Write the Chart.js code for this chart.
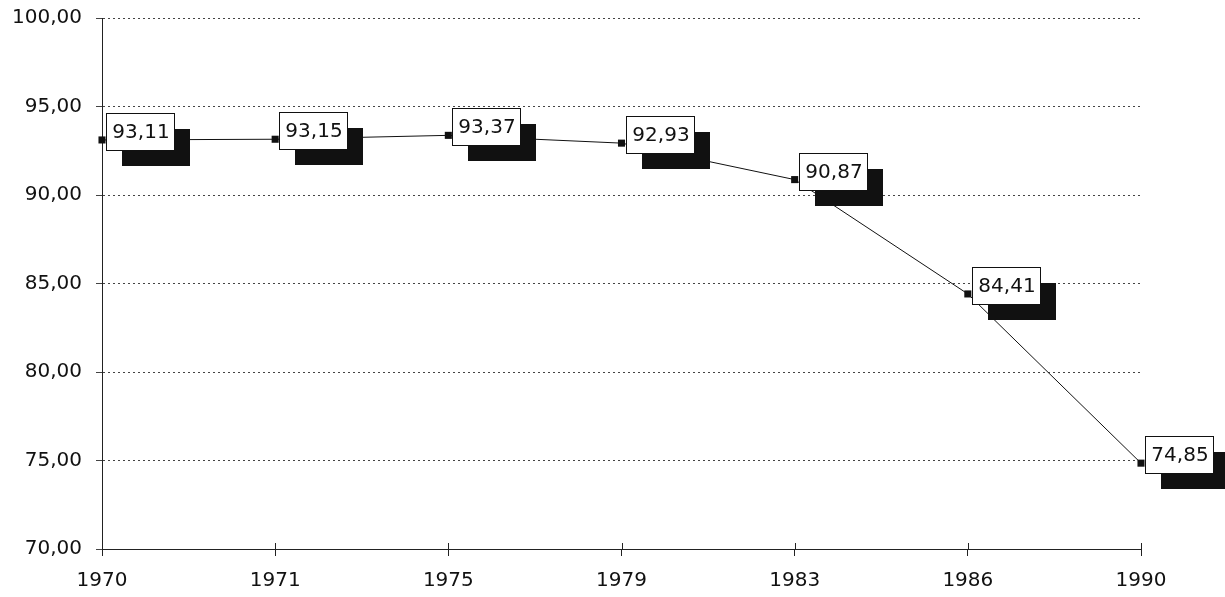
<!DOCTYPE html>
<html>
<head>
<meta charset="utf-8">
<script src="https://cdn.jsdelivr.net/npm/chart.js@4"></script>
<style>
  html, body { margin: 0; padding: 0; background: #fff; }
  #wrap { width: 1225px; height: 597px; }
</style>
</head>
<body>
<div id="wrap"><canvas id="chart" width="1225" height="597"></canvas></div>
<script>
const years = ["1970", "1971", "1975", "1979", "1983", "1986", "1990"];
const values = [93.11, 93.15, 93.37, 92.93, 90.87, 84.41, 74.85];
const yTicks = [70, 75, 80, 85, 90, 95, 100];

const FONT = "'DejaVu Sans', Verdana, sans-serif";

function fmt(v) {
  return v.toFixed(2).replace(".", ",");
}

// white value box with black drop shadow, next to each point
const valueBoxes = {
  id: "valueBoxes",
  afterDatasetsDraw(chart) {
    const ctx = chart.ctx;
    const meta = chart.getDatasetMeta(0);
    const w = 68, h = 37;
    ctx.save();
    meta.data.forEach((pt, i) => {
      const bx = Math.round(pt.x) + 4;
      const by = Math.round(pt.y) - 27;
      ctx.fillStyle = "#111";
      ctx.fillRect(bx + 16, by + 16, w, h);
      ctx.fillStyle = "#fff";
      ctx.fillRect(bx, by, w, h);
      ctx.strokeStyle = "#111";
      ctx.lineWidth = 1;
      ctx.strokeRect(bx + 0.5, by + 0.5, w, h);
      ctx.fillStyle = "#111";
      ctx.font = "20px " + FONT;
      ctx.textAlign = "center";
      ctx.textBaseline = "middle";
      ctx.fillText(fmt(values[i]), bx + w / 2 + 1, by + h / 2 + 1);
    });
    ctx.restore();
  },
  afterDraw(chart) {
    // small tick marks above the x axis line
    const ctx = chart.ctx;
    const x = chart.scales.x;
    const bottom = chart.chartArea.bottom;
    ctx.save();
    ctx.strokeStyle = "#222";
    ctx.lineWidth = 1;
    years.forEach((_, i) => {
      const px = Math.round(x.getPixelForValue(i)) + 0.5;
      ctx.beginPath();
      ctx.moveTo(px, bottom - 6);
      ctx.lineTo(px, bottom);
      ctx.stroke();
    });
    ctx.restore();
  }
};

new Chart(document.getElementById("chart").getContext("2d"), {
  type: "line",
  data: {
    labels: years,
    datasets: [{
      data: values,
      borderColor: "#111",
      borderWidth: 1,
      backgroundColor: "#111",
      pointStyle: "rect",
      pointRadius: 5,
      pointBackgroundColor: "#111",
      pointBorderWidth: 0,
      tension: 0,
      clip: false
    }]
  },
  options: {
    responsive: false,
    animation: false,
    events: [],
    layout: { padding: { top: 18, right: 84, bottom: 0, left: 0 } },
    plugins: {
      legend: { display: false },
      tooltip: { enabled: false }
    },
    scales: {
      x: {
        type: "category",
        offset: false,
        afterFit: s => { s.height = 48; s.paddingLeft = 0; s.paddingRight = 0; },
        grid: {
          drawOnChartArea: false,
          drawTicks: true,
          tickLength: 7,
          color: "#222"
        },
        border: { display: true, color: "#222", width: 1 },
        ticks: {
          color: "#111",
          font: { family: FONT, size: 20 },
          padding: 13,
          maxRotation: 0,
          autoSkip: false
        }
      },
      y: {
        min: 70,
        max: 100,
        afterFit: s => { s.width = 102; s.paddingTop = 0; s.paddingBottom = 0; },
        afterBuildTicks: s => { s.ticks = yTicks.map(v => ({ value: v })); },
        grid: {
          color: "#444",
          lineWidth: 1,
          tickLength: 6,
          borderDash: [2, 3]
        },
        border: { display: true, color: "#222", width: 1, dash: [2, 3] },
        ticks: {
          color: "#111",
          font: { family: FONT, size: 20 },
          padding: 14,
          callback: v => fmt(v)
        }
      }
    }
  },
  plugins: [valueBoxes]
});
</script>
</body>
</html>
